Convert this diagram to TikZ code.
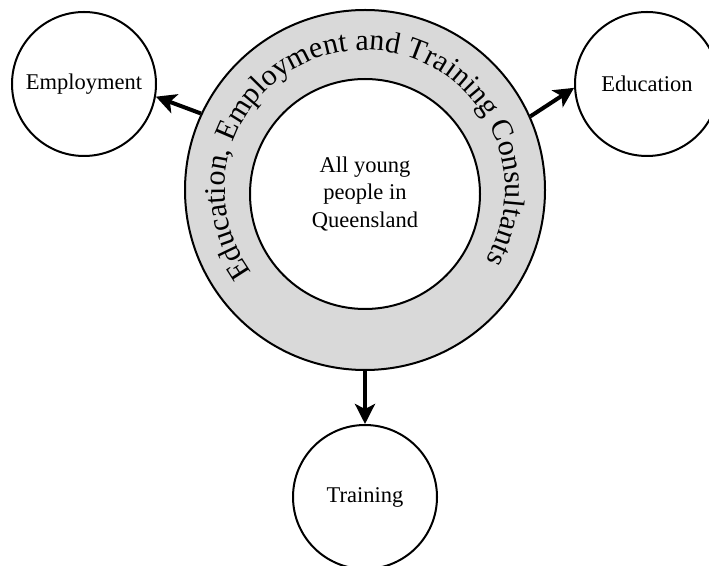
\documentclass[tikz,border=0pt]{standalone}
\usepackage{fontspec}
\setmainfont{Liberation Serif}
\usetikzlibrary{arrows.meta,decorations.text}
\newcommand{\ringfont}{\fontsize{30}{32}\selectfont}
\newcommand{\bodyfont}{\fontsize{22.5}{27.5}\selectfont}
\definecolor{ringgray}{RGB}{217,217,217}
\begin{document}
\begin{tikzpicture}[x=1pt,y=1pt,
  outcome/.style={circle,draw,line width=2pt,fill=white,minimum size=144pt,inner sep=0pt,font=\bodyfont},
  link/.style={line width=4pt,-{Stealth[length=20pt,width=20pt,inset=5pt]}}]
  \useasboundingbox (0,0) rectangle (709,565);
  % consultants ring and the young people at its centre
  \node[circle,draw,line width=2pt,fill=ringgray,minimum size=360pt,inner sep=0pt] (ring) at (365,375) {};
  \node[circle,draw,line width=2pt,fill=white,minimum size=230pt,inner sep=0pt,align=center,font=\bodyfont] (core) at (365,371) {All young\\people in\\Queensland};
  \path[decorate,decoration={text along path,text align=center,
      text={|\ringfont|Education, Employment and Training Consultants}}]
    (ring.center) ++(216:140) arc[start angle=216,end angle=-30,radius=140];
  % destinations
  \node[outcome] (emp) at (84,481) {Employment};
  \node[outcome] (edu) at (647,481) {Education};
  \node[outcome] (train) at (365,68) {Training};
  % pathways
  \draw[link] (ring.155) -- (emp.-10);
  \draw[link] (ring.24) -- (edu.183);
  \draw[link] (ring.-90) -- (train.90);
\end{tikzpicture}
\end{document}
